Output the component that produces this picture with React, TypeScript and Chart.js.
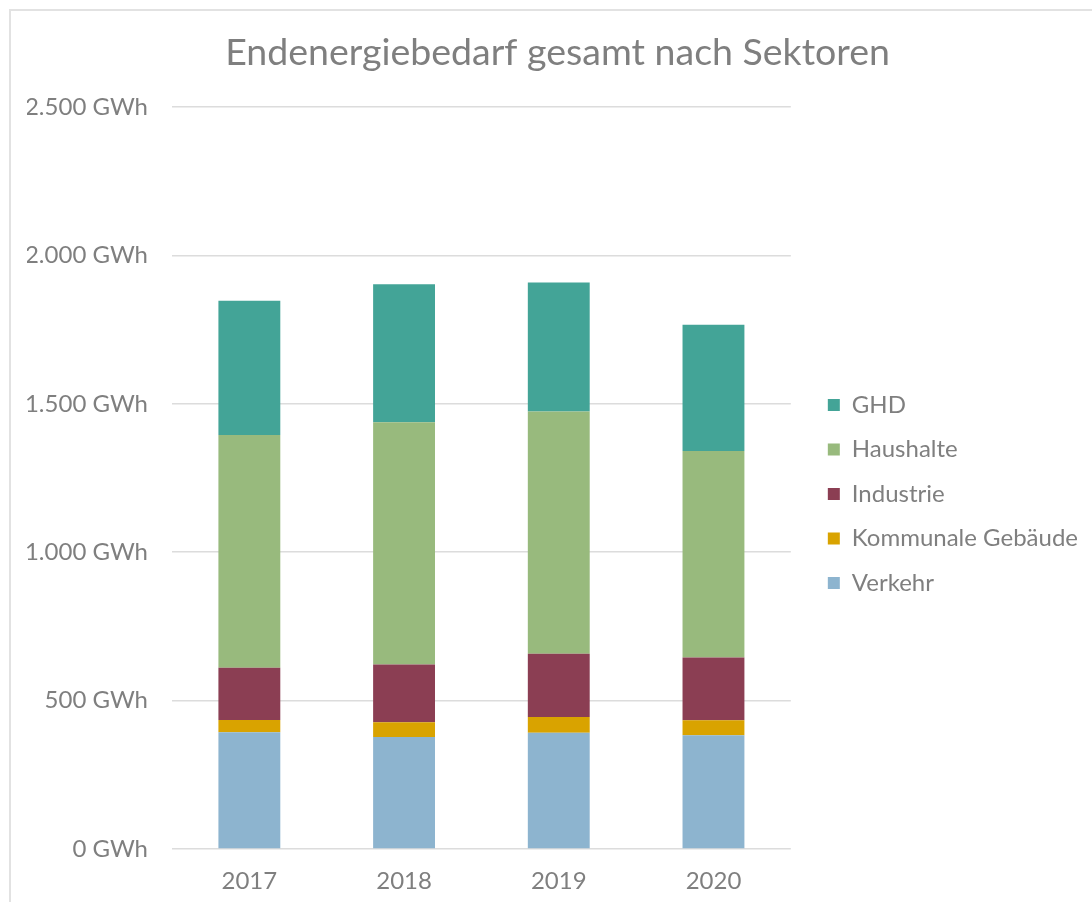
import React, { useEffect, useRef } from "react";
import { Chart, registerables } from "chart.js";

Chart.register(...registerables);

const years = ["2017", "2018", "2019", "2020"];
const verkehr = [393, 377, 392, 383];
const kommunale = [42, 50, 53, 51];
const industrie = [176, 195, 213, 211];
const haushalte = [784, 816, 816, 696];
const ghd = [452, 465, 435, 425];
const yTicks = [0, 500, 1000, 1500, 2000, 2500];

const FONT = "Lato";
const GREY = "#7f7f7f";

function fmt(v: number): string {
  return String(Math.round(v)).replace(/\B(?=(\d{3})+(?!\d))/g, ".") + " GWh";
}

export default function App() {
  const ref = useRef<HTMLCanvasElement | null>(null);
  useEffect(() => {
    if (!ref.current) return;
    const chart = new Chart(ref.current, {
      type: "bar",
      data: {
        labels: years,
        datasets: [
          { label: "Verkehr", data: verkehr, backgroundColor: "#8db4cf" },
          { label: "Kommunale Gebäude", data: kommunale, backgroundColor: "#d9a300" },
          { label: "Industrie", data: industrie, backgroundColor: "#8b3e53" },
          { label: "Haushalte", data: haushalte, backgroundColor: "#98ba7d" },
          { label: "GHD", data: ghd, backgroundColor: "#43a497" },
        ],
      },
      options: {
        responsive: false,
        animation: false,
        datasets: { bar: { barPercentage: 0.4, categoryPercentage: 1 } },
        layout: { padding: { left: 16, right: 4, top: 0, bottom: 0 } },
        plugins: {
          tooltip: { enabled: false },
          title: {
            display: true,
            text: "Endenergiebedarf gesamt nach Sektoren",
            color: GREY,
            font: { family: FONT, size: 37.5, weight: "normal" },
            padding: { top: 19.5, bottom: 31.5 },
          },
          legend: {
            position: "right",
            reverse: true,
            maxWidth: 400,
            title: { display: true, text: "", font: { size: 10, lineHeight: 7.5 }, padding: 0 },
            labels: {
              boxWidth: 12,
              boxHeight: 12,
              padding: 20.5,
              color: GREY,
              font: { family: FONT, size: 24 },
            },
          },
        },
        scales: {
          x: {
            stacked: true,
            grid: { display: false, drawTicks: false },
            border: { display: false },
            ticks: { color: GREY, font: { family: FONT, size: 24 }, padding: 17.6 },
            afterFit: (s: any) => {
              s.height = 53;
            },
          },
          y: {
            stacked: true,
            min: 0,
            max: 2500,
            afterBuildTicks: (s: any) => {
              s.ticks = yTicks.map((v) => ({ value: v }));
            },
            afterFit: (s: any) => {
              s.width = 145;
            },
            grid: { color: "#dcdcdc", lineWidth: 1.5, drawTicks: false },
            border: { display: false },
            ticks: {
              color: GREY,
              font: { family: FONT, size: 24 },
              padding: 24,
              callback: (v: any) => fmt(Number(v)),
            },
          },
          yR: {
            type: "linear",
            position: "right",
            display: true,
            grid: { display: false, drawTicks: false },
            border: { display: false },
            ticks: { display: false },
            afterFit: (s: any) => {
              s.width = 16.5;
            },
          },
        },
      },
    });
    return () => chart.destroy();
  }, []);

  return (
    <div
      style={{
        position: "absolute",
        left: 9,
        top: 9,
        width: 1083,
        height: 893,
        boxSizing: "border-box",
        borderLeft: "2px solid #e2e2e2",
        borderTop: "2px solid #e2e2e2",
        background: "#fff",
        overflow: "hidden",
      }}
    >
      <canvas ref={ref} width={1081} height={891} style={{ display: "block" }} />
    </div>
  );
}
